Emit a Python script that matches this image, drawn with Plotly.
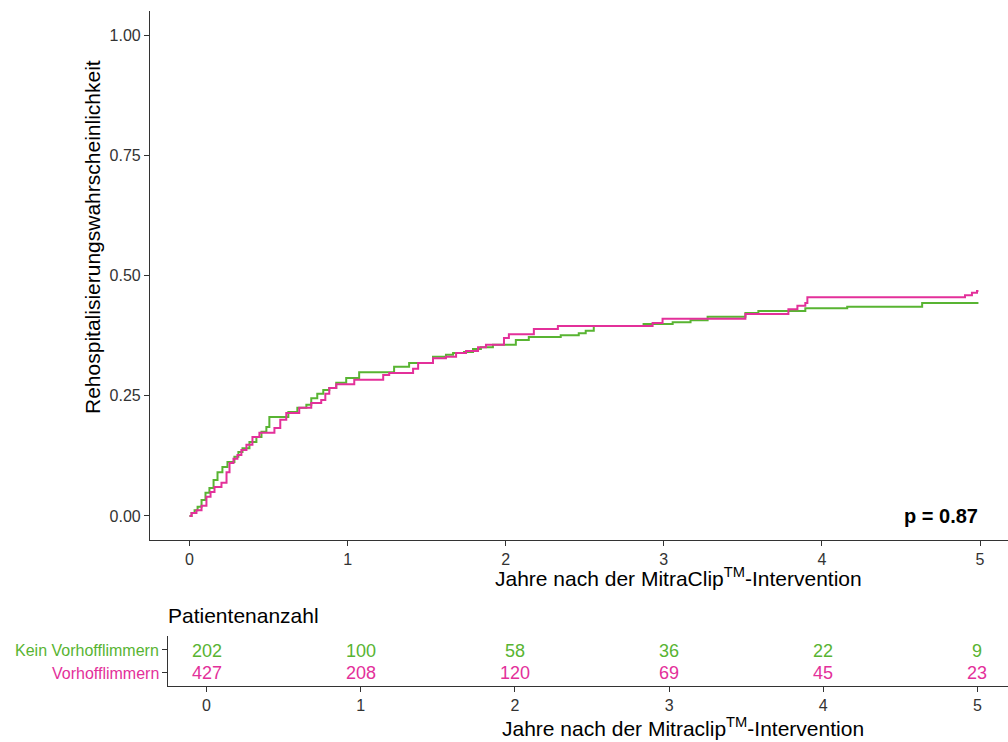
import plotly.graph_objects as go

# ---- Kaplan-Meier style cumulative incidence ----
t_kein = [0, 0.013, 0.032, 0.051, 0.076, 0.101, 0.126, 0.152, 0.177, 0.208, 0.240, 0.284,
          0.309, 0.335, 0.379, 0.423, 0.455, 0.486, 0.505, 0.625, 0.682, 0.739, 0.770,
          0.808, 0.846, 0.884, 0.928, 0.991, 1.073, 1.294, 1.389, 1.540, 1.622, 1.667,
          1.736, 1.793, 1.843, 1.919, 2.064, 2.146, 2.348, 2.462, 2.506, 2.557, 2.872,
          3.056, 3.169, 3.277, 3.516, 3.598, 3.895, 4.160, 4.634, 4.99]
y_kein = [0, 0.006, 0.012, 0.019, 0.033, 0.048, 0.058, 0.075, 0.091, 0.102, 0.112, 0.123,
          0.133, 0.141, 0.154, 0.164, 0.175, 0.185, 0.206, 0.216, 0.225, 0.231, 0.245,
          0.254, 0.262, 0.266, 0.277, 0.287, 0.299, 0.310, 0.318, 0.331, 0.335, 0.339,
          0.341, 0.347, 0.351, 0.356, 0.366, 0.372, 0.376, 0.380, 0.385, 0.395, 0.399,
          0.403, 0.407, 0.414, 0.422, 0.426, 0.432, 0.435, 0.443, 0.443]

t_vhf = [0, 0.013, 0.044, 0.076, 0.107, 0.133, 0.158, 0.202, 0.234, 0.253, 0.278, 0.303,
         0.328, 0.360, 0.398, 0.442, 0.537, 0.574, 0.612, 0.694, 0.770, 0.833, 0.859,
         0.884, 0.928, 1.042, 1.225, 1.263, 1.414, 1.446, 1.540, 1.622, 1.686, 1.749,
         1.825, 1.875, 1.989, 2.020, 2.178, 2.330, 2.929, 2.992, 3.516, 3.788, 3.845,
         3.895, 3.908, 4.905, 4.949, 4.981, 4.99]
y_vhf = [0, 0.006, 0.012, 0.021, 0.040, 0.050, 0.060, 0.069, 0.091, 0.110, 0.119, 0.127,
         0.137, 0.148, 0.164, 0.173, 0.183, 0.200, 0.214, 0.225, 0.235, 0.241, 0.254,
         0.266, 0.274, 0.283, 0.293, 0.297, 0.306, 0.318, 0.328, 0.331, 0.339, 0.343,
         0.351, 0.356, 0.370, 0.378, 0.389, 0.395, 0.401, 0.410, 0.420, 0.430, 0.437,
         0.443, 0.455, 0.459, 0.464, 0.468, 0.468]

# ---- Risk table ----
risk_times = [0, 1, 2, 3, 4, 5]
risk_kein = [202, 100, 58, 36, 22, 9]
risk_vhf = [427, 208, 120, 69, 45, 23]
group_labels = ["Kein Vorhofflimmern", "Vorhofflimmern"]
y_ticks = [0, 0.25, 0.5, 0.75, 1.0]

GREEN = "#58B432"
PINK = "#E3309A"
FONT = "Liberation Sans, Arial, sans-serif"
W, H = 1008, 742

def px_x(p):
    return p / W

def px_y(p):
    return 1 - p / H

fig = go.Figure()

fig.add_trace(go.Scatter(x=t_kein, y=y_kein, mode="lines", line=dict(color=GREEN, width=2, shape="hv"),
                         xaxis="x", yaxis="y", showlegend=False, name=group_labels[0]))
fig.add_trace(go.Scatter(x=t_vhf, y=y_vhf, mode="lines", line=dict(color=PINK, width=2, shape="hv"),
                         xaxis="x", yaxis="y", showlegend=False, name=group_labels[1]))

axis_common = dict(showline=True, linecolor="#333333", linewidth=1.2, ticks="outside",
                   ticklen=5, tickcolor="#333333", tickwidth=1.1, showgrid=False, zeroline=False,
                   automargin=False,
                   tickfont=dict(family=FONT, size=16, color="#333333"))

fig.update_layout(
    width=W, height=H,
    margin=dict(l=0, r=0, t=0, b=0, autoexpand=False),
    paper_bgcolor="white", plot_bgcolor="white",
    font=dict(family=FONT),
    xaxis=dict(domain=[px_x(150), 1], range=[-0.25, 5.177], tickvals=risk_times,
               anchor="y", **axis_common),
    yaxis=dict(domain=[px_y(540), px_y(11)], range=[-0.05, 1.05], tickvals=y_ticks,
               tickformat=".2f", anchor="x", **axis_common),
    xaxis2=dict(domain=[px_x(168), 1], range=[-0.25, 5.198], tickvals=risk_times,
                anchor="y2", **axis_common),
    yaxis2=dict(domain=[px_y(686), px_y(636)], range=[0.4, 2.6], tickvals=[1, 2],
                showticklabels=False, anchor="x2", **axis_common),
)

annotations = [
    dict(text="Rehospitalisierungswahrscheinlichkeit", xref="paper", yref="paper",
         x=px_x(92), y=px_y(237), textangle=-90, showarrow=False,
         font=dict(family=FONT, size=21, color="black"), xanchor="center", yanchor="middle"),
    dict(text="Jahre nach der MitraClip<sup>TM</sup>-Intervention", xref="paper", yref="paper",
         x=px_x(678), y=px_y(577), showarrow=False,
         font=dict(family=FONT, size=21, color="black"), xanchor="center", yanchor="middle"),
    dict(text="<b>p = 0.87</b>", xref="x", yref="y", x=5.0, y=0.0, showarrow=False,
         font=dict(family=FONT, size=20, color="black"), xanchor="right", yanchor="middle"),
    dict(text="Patientenanzahl", xref="paper", yref="paper", x=px_x(166), y=px_y(615),
         showarrow=False, font=dict(family=FONT, size=21, color="black"),
         xanchor="left", yanchor="middle"),
    dict(text="Jahre nach der Mitraclip<sup>TM</sup>-Intervention", xref="paper", yref="paper",
         x=px_x(683), y=px_y(727), showarrow=False,
         font=dict(family=FONT, size=21, color="black"), xanchor="center", yanchor="middle"),
    dict(text=group_labels[0], xref="paper", yref="y2", x=px_x(161), y=2, showarrow=False,
         yshift=-1,
         font=dict(family=FONT, size=16, color=GREEN), xanchor="right", yanchor="middle"),
    dict(text=group_labels[1], xref="paper", yref="y2", x=px_x(161), y=1, showarrow=False,
         yshift=-1,
         font=dict(family=FONT, size=16, color=PINK), xanchor="right", yanchor="middle"),
]

# risk-table numbers, positioned through the risk-table axes
for row_y, counts, col in [(2, risk_kein, GREEN), (1, risk_vhf, PINK)]:
    for tx, n in zip(risk_times, counts):
        annotations.append(dict(text=str(n), xref="x2", yref="y2", x=tx, y=row_y,
                                showarrow=False, yshift=-1, xanchor="center", yanchor="middle",
                                font=dict(family=FONT, size=18, color=col)))

fig.update_layout(annotations=annotations)

fig.write_html("out.html", config={"displayModeBar": False},
               post_script="document.body.style.margin='0';document.body.style.overflow='hidden';")
